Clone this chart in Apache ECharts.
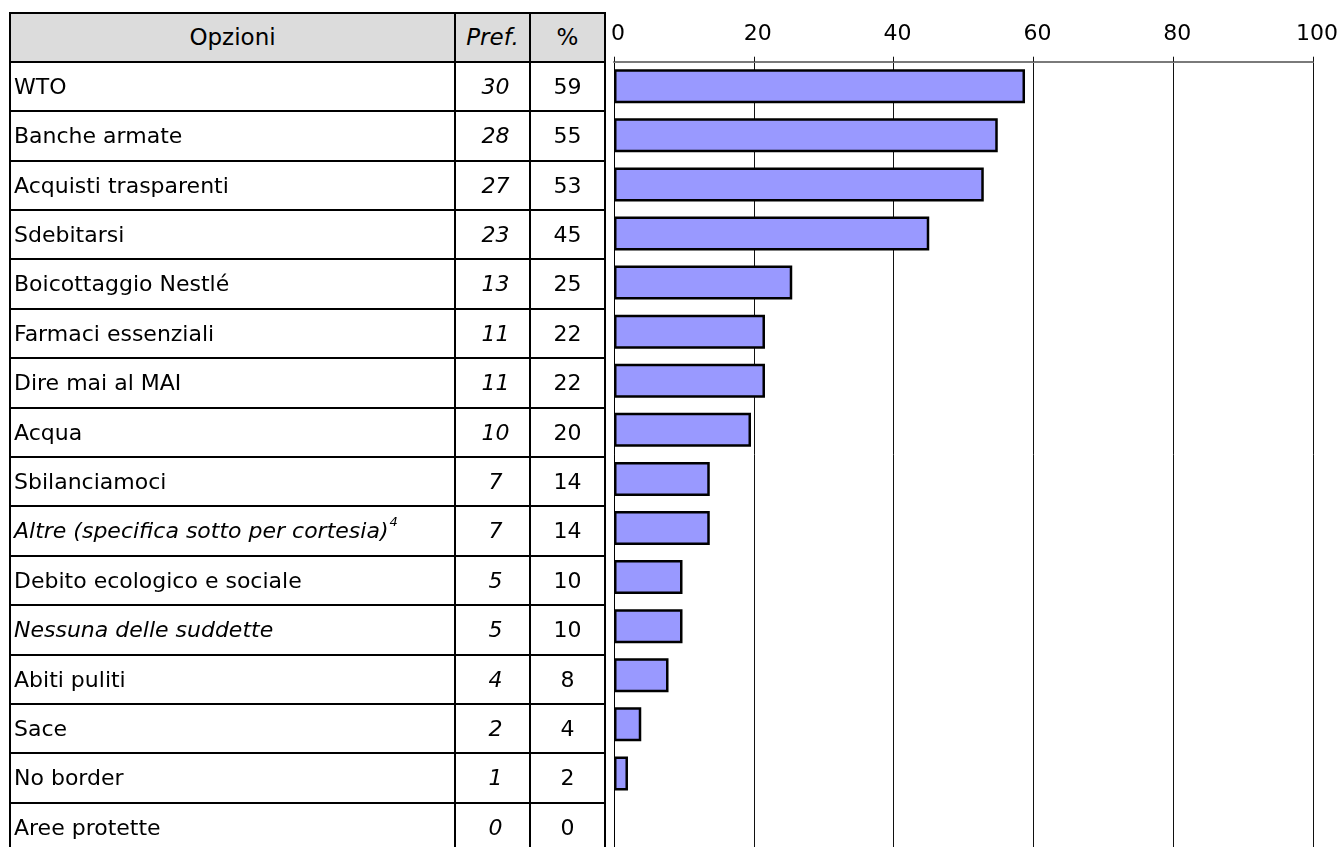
<!DOCTYPE html>
<html>
<head>
<meta charset="utf-8">
<script src="https://cdn.jsdelivr.net/npm/echarts@6/dist/echarts.min.js"></script>
<style>
  html, body { margin: 0; padding: 0; background: #fff; }
  #wrap { position: relative; width: 1342px; height: 847px; overflow: hidden; font-family: "DejaVu Sans", Verdana, sans-serif; color: #000; }
  #chart { position: absolute; left: 0; top: 0; width: 1342px; height: 847px; }
  .ln { position: absolute; background: #000; }
  .cell { position: absolute; display: flex; align-items: center; font-size: 22px; white-space: nowrap; }
  .hcell { font-size: 23px; }
  .hdr { position: absolute; background: #dcdcdc; }
  sup { font-size: 13px; position: relative; top: -9px; vertical-align: baseline; line-height: 0; margin-left: 1px; }
</style>
</head>
<body>
<div id="wrap">
  <div id="chart"></div>
  <div id="table"></div>
</div>
<script>
// ---- data ----
const headers = ["Opzioni", "Pref.", "%"];
const options = ["WTO", "Banche armate", "Acquisti trasparenti", "Sdebitarsi", "Boicottaggio Nestlé",
  "Farmaci essenziali", "Dire mai al MAI", "Acqua", "Sbilanciamoci",
  "Altre (specifica sotto per cortesia)", "Debito ecologico e sociale", "Nessuna delle suddette",
  "Abiti puliti", "Sace", "No border", "Aree protette"];
const footnoteMarks = ["", "", "", "", "", "", "", "", "", "4", "", "", "", "", "", ""];
const italicRows = [false, false, false, false, false, false, false, false, false, true, false, true, false, false, false, false];
const prefs = [30, 28, 27, 23, 13, 11, 11, 10, 7, 7, 5, 5, 4, 2, 1, 0];
const pctLabels = [59, 55, 53, 45, 25, 22, 22, 20, 14, 14, 10, 10, 8, 4, 2, 0];
const barValues = [58.8, 54.9, 52.9, 45.1, 25.5, 21.6, 21.6, 19.6, 13.7, 13.7, 9.8, 9.8, 7.8, 3.9, 2.0, 0];
const axisTicks = [0, 20, 40, 60, 80, 100];

// ---- layout ----
const tblTop = 12.5, hdrH = 49.2, rowH = 49.4;
const colX = [10, 455, 530, 605];
const gridTop = tblTop + hdrH;
const nRows = options.length;

// ---- table ----
const tbl = document.getElementById('table');
function add(cls, css, html) {
  const d = document.createElement('div');
  d.className = cls;
  Object.assign(d.style, css);
  if (html !== undefined) d.innerHTML = html;
  tbl.appendChild(d);
  return d;
}
const tblBottom = gridTop + nRows * rowH;
add('hdr', { left: colX[0] + 'px', top: tblTop + 'px', width: (colX[3] - colX[0]) + 'px', height: hdrH + 'px' });
add('cell hcell', { left: colX[0] + 'px', top: tblTop + 'px', width: (colX[1] - colX[0]) + 'px', height: hdrH + 'px', justifyContent: 'center' }, headers[0]);
add('cell hcell', { left: colX[1] + 'px', top: tblTop + 'px', width: (colX[2] - colX[1]) + 'px', height: hdrH + 'px', justifyContent: 'center', fontStyle: 'italic' }, headers[1]);
add('cell hcell', { left: colX[2] + 'px', top: tblTop + 'px', width: (colX[3] - colX[2]) + 'px', height: hdrH + 'px', justifyContent: 'center' }, headers[2]);
for (let i = 0; i < nRows; i++) {
  const y = gridTop + i * rowH;
  const name = options[i] + (footnoteMarks[i] ? '<sup>' + footnoteMarks[i] + '</sup>' : '');
  add('cell', { left: (colX[0] + 4) + 'px', top: y + 'px', height: rowH + 'px', fontStyle: italicRows[i] ? 'italic' : 'normal' }, name);
  add('cell', { left: (colX[1] + 3) + 'px', top: y + 'px', width: (colX[2] - colX[1]) + 'px', height: rowH + 'px', justifyContent: 'center', fontStyle: 'italic' }, String(prefs[i]));
  add('cell', { left: colX[2] + 'px', top: y + 'px', width: (colX[3] - colX[2]) + 'px', height: rowH + 'px', justifyContent: 'center' }, String(pctLabels[i]));
}
for (let i = 0; i <= nRows + 1; i++) {
  const y = Math.round(i === 0 ? tblTop : gridTop + (i - 1) * rowH);
  add('ln', { left: (colX[0] - 1) + 'px', top: (y - 1) + 'px', width: (colX[3] - colX[0] + 2) + 'px', height: '2px' });
}
for (const x of colX) {
  add('ln', { left: (x - 1) + 'px', top: Math.round(tblTop - 1) + 'px', width: '2px', height: Math.round(tblBottom - tblTop + 2) + 'px' });
}

// ---- chart ----
const chart = echarts.init(document.getElementById('chart'));
chart.setOption({
  animation: false,
  grid: { left: 614, top: gridTop, width: 699, height: nRows * rowH, containLabel: false },
  xAxis: {
    type: 'value', position: 'top', min: 0, max: 100, interval: 20,
    axisLine: { show: true, lineStyle: { color: '#7a7a7a', width: 2 } },
    axisTick: { show: true, length: 5, inside: false, lineStyle: { color: '#111', width: 1 } },
    splitLine: { show: true, lineStyle: { color: '#111', width: 1 } },
    axisLabel: {
      fontSize: 22, color: '#000', fontFamily: 'DejaVu Sans', margin: 16,
      padding: [0, 0, 0, 8],
      formatter: v => axisTicks.includes(v) ? String(v) : ''
    }
  },
  yAxis: {
    type: 'category', inverse: true, data: options,
    axisLine: { show: true, lineStyle: { color: '#000', width: 1 } },
    axisTick: { show: false }, axisLabel: { show: false }, splitLine: { show: false }
  },
  series: [{
    type: 'bar', barWidth: 34,
    data: barValues.map(v => v === 0 ? { value: v, itemStyle: { borderWidth: 0 } } : v),
    itemStyle: { color: '#9999FF', borderColor: '#000', borderWidth: 2.5 }
  }]
});
</script>
</body>
</html>
